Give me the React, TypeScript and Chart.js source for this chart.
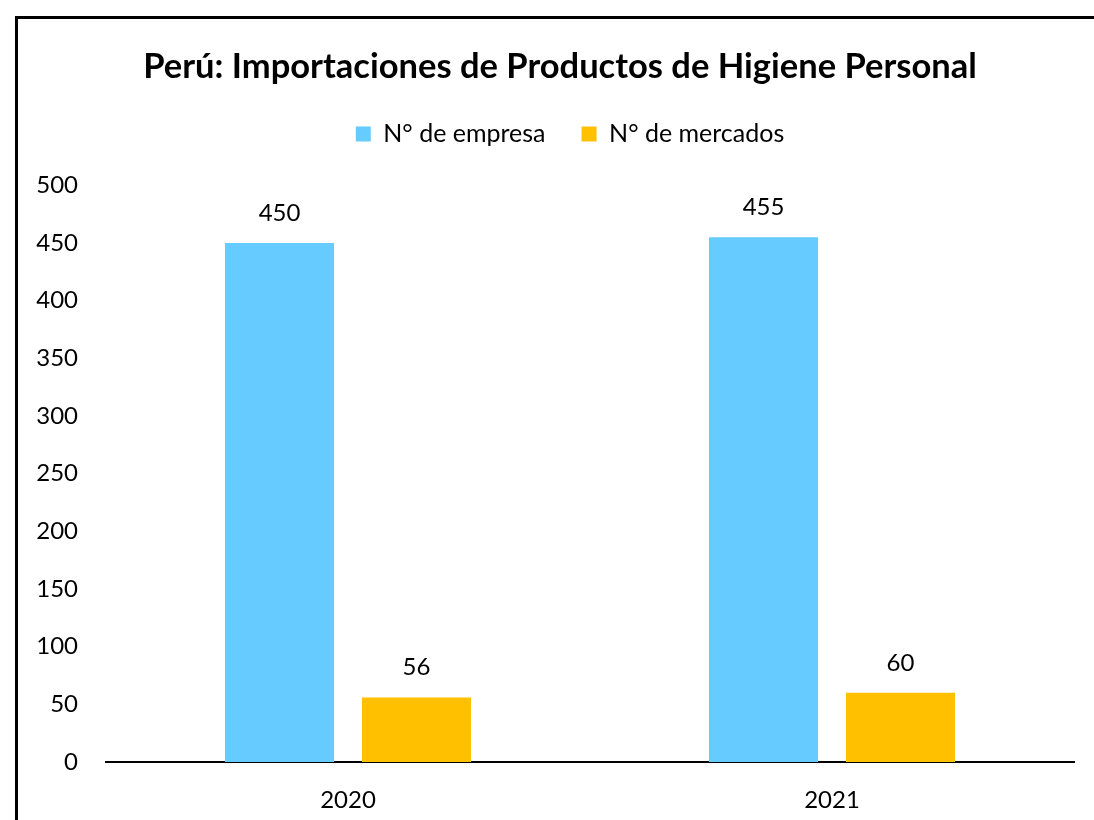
import React, { useEffect, useRef } from "react";
import { Chart, registerables } from "chart.js";

Chart.register(...registerables);

const categories = ["2020", "2021"];
const empresas = [450, 455];
const mercados = [56, 60];
const yTicks = [0, 50, 100, 150, 200, 250, 300, 350, 400, 450, 500];
const titleText = "Perú: Importaciones de Productos de Higiene Personal";
const seriesNames = ["N° de empresa", "N° de mercados"];

const FONT = "Lato, 'Open Sans', sans-serif";

const valueLabels = {
  id: "valueLabels",
  afterDatasetsDraw(chart: any) {
    const ctx = chart.ctx;
    ctx.save();
    ctx.font = `24px ${FONT}`;
    ctx.fillStyle = "#000";
    ctx.textAlign = "center";
    ctx.textBaseline = "middle";
    chart.data.datasets.forEach((ds: any, i: number) => {
      const meta = chart.getDatasetMeta(i);
      meta.data.forEach((bar: any, j: number) => {
        ctx.fillText(String(ds.data[j]), bar.x, bar.y - 30);
      });
    });
    ctx.restore();
  },
};

const shiftBoxes = {
  id: "shiftBoxes",
  afterInit(chart: any) {
    const lg = chart.legend;
    if (lg) {
      const origFit = lg.fit.bind(lg);
      lg.fit = function () {
        origFit();
        this.height += 14;
      };
      const origDraw = lg.draw.bind(lg);
      lg.draw = function () {
        chart.ctx.save();
        chart.ctx.translate(23, -15);
        origDraw();
        chart.ctx.restore();
      };
    }
    const tb = chart.titleBlock;
    if (tb) {
      const origDraw = tb.draw.bind(tb);
      tb.draw = function () {
        chart.ctx.save();
        chart.ctx.translate(13, 0);
        origDraw();
        chart.ctx.restore();
      };
    }
  },
};

export default function App() {
  const ref = useRef<HTMLCanvasElement>(null);
  useEffect(() => {
    document.body.style.margin = "0";
    document.body.style.overflow = "hidden";
    const chart = new Chart(ref.current!, {
      type: "bar",
      data: {
        labels: categories,
        datasets: [
          { label: seriesNames[0], data: empresas, backgroundColor: "#66CCFF" },
          { label: seriesNames[1], data: mercados, backgroundColor: "#FFC000" },
        ],
      },
      options: {
        animation: false,
        responsive: false,
        maintainAspectRatio: false,
        layout: { padding: { left: 20, right: 20, top: 0, bottom: 0 } },
        datasets: {
          bar: { categoryPercentage: 0.566, barPercentage: 0.796 },
        },
        plugins: {
          title: {
            display: true,
            text: titleText,
            color: "#000",
            font: { family: FONT, size: 34.5, weight: "bold" },
            padding: { top: 46, bottom: 13 },
          },
          legend: {
            display: true,
            position: "top",
            labels: {
              color: "#000",
              font: { family: FONT, size: 25 },
              boxWidth: 15,
              boxHeight: 15,
              padding: 36,
            },
          },
          tooltip: { enabled: false },
        },
        scales: {
          x: {
            grid: { display: false, drawTicks: false },
            border: { display: true, color: "#000", width: 2 },
            ticks: { color: "#000", font: { family: FONT, size: 24 }, padding: 24 },
            afterFit(axis: any) {
              axis.height = 58;
            },
          },
          y: {
            min: 0,
            max: 500,
            afterBuildTicks(axis: any) {
              axis.ticks = yTicks.map((v) => ({ value: v }));
            },
            afterFit(axis: any) {
              axis.width = 86;
            },
            grid: { display: false, drawTicks: false },
            border: { display: false },
            ticks: { color: "#000", font: { family: FONT, size: 24 }, padding: 28 },
          },
        },
      },
      plugins: [valueLabels, shiftBoxes],
    });
    return () => chart.destroy();
  }, []);
  return (
    <div style={{ position: "fixed", left: 0, top: 0, width: 1094, height: 820, overflow: "hidden", background: "#fff" }}>
      <div
        style={{
          position: "absolute",
          left: 15,
          top: 16,
          width: 1200,
          height: 1000,
          border: "3px solid #000",
          boxSizing: "border-box",
        }}
      />
      <canvas ref={ref} width={1094} height={820} style={{ position: "absolute", left: 0, top: 0 }} />
    </div>
  );
}
